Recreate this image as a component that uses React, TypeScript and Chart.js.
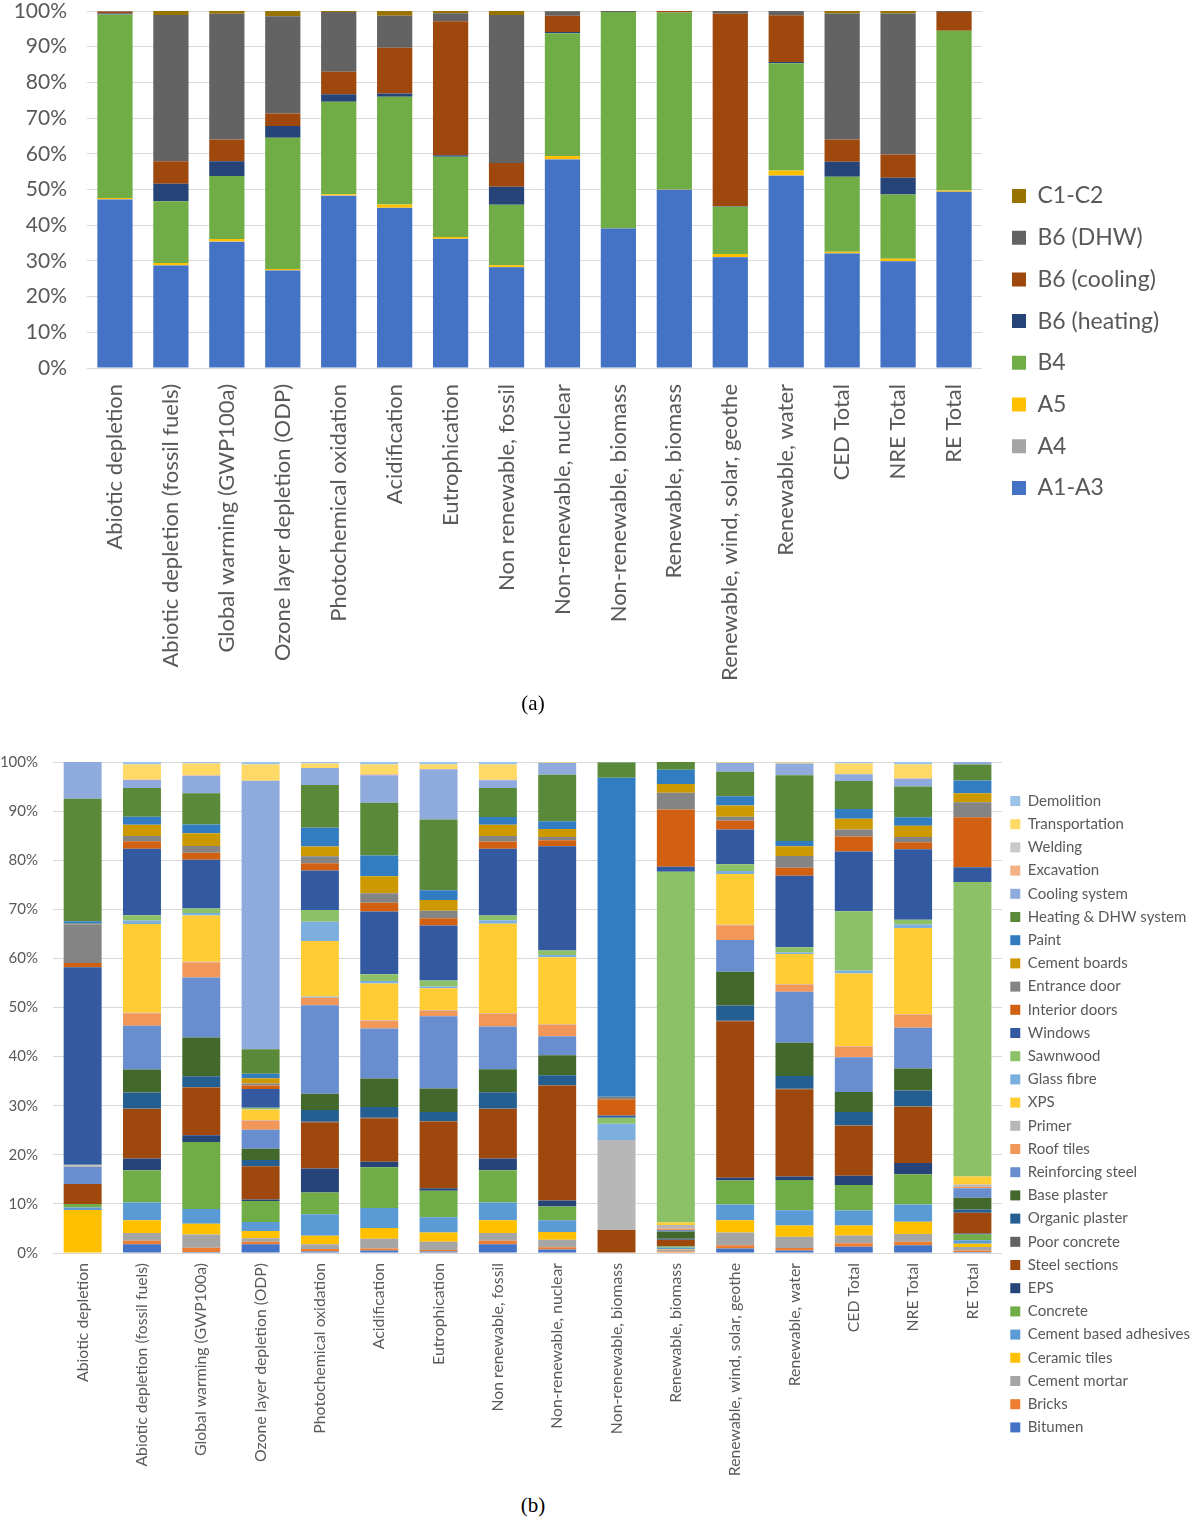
import React, { useEffect, useRef } from "react";
import { Chart, registerables } from "chart.js";

Chart.register(...registerables);

const FONT_FAMILY = "Lato, 'Liberation Sans', sans-serif";
const TEXT_COLOR = "#595959";
const GRID_COLOR = "#D9D9D9";

// ---------- shared categories ----------
const categories = [
  "Abiotic depletion",
  "Abiotic depletion (fossil fuels)",
  "Global warming (GWP100a)",
  "Ozone layer depletion (ODP)",
  "Photochemical oxidation",
  "Acidification",
  "Eutrophication",
  "Non renewable, fossil",
  "Non-renewable, nuclear",
  "Non-renewable, biomass",
  "Renewable, biomass",
  "Renewable, wind, solar, geothe",
  "Renewable, water",
  "CED Total",
  "NRE Total",
  "RE Total",
];

const percentTickStep = 10;

// ---------- (a) life-cycle stages, bottom to top ----------
const stageNames = ["A1-A3", "A4", "A5", "B4", "B6 (heating)", "B6 (cooling)", "B6 (DHW)", "C1-C2"];
const stageColors = ["#4472C4", "#A5A5A5", "#FFC000", "#70AD47", "#264478", "#9E480E", "#636363", "#997300"];

const a1a3 = [47.2, 28.7, 35.3, 27.3, 48.2, 44.8, 36.1, 28.2, 58.4, 39.1, 49.9, 31.0, 53.8, 32.1, 29.9, 49.4];
const a4 = [0.1, 0.1, 0.1, 0.1, 0.1, 0.1, 0.1, 0.1, 0.1, 0, 0, 0.1, 0.1, 0.1, 0.1, 0];
const a5 = [0.3, 0.6, 0.7, 0.3, 0.4, 0.9, 0.5, 0.5, 0.9, 0, 0.1, 0.8, 1.4, 0.4, 0.6, 0.3];
const b4 = [51.4, 17.3, 17.7, 36.8, 25.9, 30.2, 22.5, 16.9, 34.4, 60.6, 49.6, 13.3, 30.0, 21.0, 18.0, 44.8];
const b6Heating = [0.3, 4.9, 4.1, 3.3, 2.1, 0.9, 0.4, 5.1, 0.3, 0, 0, 0.1, 0.3, 4.2, 4.7, 0];
const b6Cooling = [0.5, 6.3, 6.1, 3.5, 6.3, 12.8, 37.5, 6.6, 4.6, 0, 0.4, 53.9, 13.1, 6.3, 6.5, 5.2];
const b6Dhw = [0.1, 41.0, 35.2, 27.2, 16.7, 9.0, 2.3, 41.5, 1.2, 0.3, 0, 0.8, 1.2, 35.3, 39.5, 0.3];
const c1c2 = [0.1, 1.1, 0.8, 1.5, 0.3, 1.3, 0.6, 1.1, 0.1, 0, 0, 0, 0, 0.7, 0.7, 0];

const stageData = [a1a3, a4, a5, b4, b6Heating, b6Cooling, b6Dhw, c1c2];

// ---------- (b) materials / components, bottom to top ----------
const materialNames = [
  "Bitumen",
  "Bricks",
  "Cement mortar",
  "Ceramic tiles",
  "Cement based adhesives",
  "Concrete",
  "EPS",
  "Steel sections",
  "Poor concrete",
  "Organic plaster",
  "Base plaster",
  "Reinforcing steel",
  "Roof tiles",
  "Primer",
  "XPS",
  "Glass fibre",
  "Sawnwood",
  "Windows",
  "Interior doors",
  "Entrance door",
  "Cement boards",
  "Paint",
  "Heating & DHW system",
  "Cooling system",
  "Excavation",
  "Welding",
  "Transportation",
  "Demolition",
];
const materialColors = [
  "#4472C4", "#ED7D31", "#A5A5A5", "#FFC000", "#5B9BD5", "#70AD47", "#264478",
  "#9E480E", "#636363", "#255E91", "#43682B", "#698ED0", "#F1975A", "#B7B7B7",
  "#FFCD33", "#7CAFDD", "#8CC168", "#335AA1", "#D26012", "#848484", "#CC9A00",
  "#327DC2", "#5A8A39", "#8FAADC", "#F4B183", "#C9C9C9", "#FFD966", "#9DC3E6",
];

const bitumen = [0, 1.8, 0.2, 1.8, 0.3, 0.5, 0.3, 1.8, 0.7, 0, 0.1, 0.9, 0.5, 1.3, 1.6, 0.2];
const bricks = [0, 0.7, 0.9, 0.5, 0.5, 0.4, 0.3, 0.7, 0.5, 0, 0.2, 0.7, 0.5, 0.7, 0.7, 0.3];
const cementMortar = [0.1, 1.6, 2.7, 0.7, 1.0, 2.0, 1.7, 1.6, 1.5, 0, 0.4, 2.6, 2.3, 1.6, 1.6, 0.7];
const ceramicTiles = [8.7, 2.6, 2.2, 1.5, 1.7, 2.2, 1.9, 2.6, 1.6, 0, 0.1, 2.5, 2.3, 2.0, 2.5, 0.7];
const cementAdhesives = [0.5, 3.6, 3.0, 1.8, 4.4, 4.1, 3.1, 3.6, 2.4, 0, 0.3, 3.2, 3.1, 3.1, 3.5, 0.7];
const concrete = [0.7, 6.6, 13.7, 4.3, 4.4, 8.3, 5.4, 6.6, 2.8, 0, 0.3, 4.9, 6.2, 5.2, 6.2, 1.2];
const eps = [0, 2.4, 1.4, 0.3, 4.9, 1.1, 0.5, 2.4, 1.2, 0, 0, 0.6, 0.7, 1.9, 2.3, 0.2];
const steelSections = [4.1, 10.1, 9.8, 6.8, 9.4, 8.9, 13.6, 10.1, 23.5, 4.7, 1.3, 32.0, 17.8, 10.2, 11.5, 4.2];
const poorConcrete = [0, 0.1, 0.1, 0.05, 0.1, 0.1, 0.1, 0.1, 0.1, 0, 0, 0.1, 0.1, 0.1, 0.1, 0];
const organicPlaster = [0, 3.3, 2.2, 1.2, 2.4, 2.2, 1.8, 3.3, 2.0, 0, 0.2, 3.1, 2.6, 2.7, 3.2, 0.7];
const basePlaster = [0, 4.7, 7.9, 2.3, 3.3, 5.8, 4.8, 4.7, 4.1, 0, 1.5, 6.9, 6.8, 4.1, 4.5, 2.4];
const reinforcingSteel = [3.5, 8.9, 12.3, 3.9, 18.0, 10.2, 14.7, 8.7, 3.9, 0, 0.3, 6.5, 10.4, 7.1, 8.3, 1.9];
const roofTiles = [0.1, 2.6, 3.1, 1.9, 1.5, 1.6, 1.2, 2.7, 2.4, 0, 0.3, 3.0, 1.5, 2.2, 2.7, 0.3];
const primer = [0.1, 0.1, 0.1, 0.1, 0.3, 0.1, 0.1, 0.1, 0.1, 18.3, 0.7, 0.1, 0.1, 0.1, 0.1, 0.5];
const xps = [0, 18.1, 9.5, 2.1, 11.3, 7.5, 4.4, 18.2, 13.6, 0, 0.5, 10.4, 6.1, 14.8, 17.6, 1.6];
const glassFibre = [0.1, 0.7, 0.5, 0.1, 3.9, 0.5, 0.4, 0.7, 0.5, 3.3, 0, 0.6, 0.3, 0.6, 0.7, 0];
const sawnwood = [0.1, 1.1, 0.9, 0.3, 2.4, 1.4, 1.2, 1.0, 0.9, 1.2, 71.6, 1.4, 1.1, 12.1, 1.0, 60.1];
const windows = [40.3, 13.6, 10.0, 3.8, 8.0, 12.8, 11.2, 13.6, 21.3, 0.5, 1.0, 7.1, 14.6, 12.2, 14.4, 3.0];
const interiorDoors = [0.9, 1.5, 1.4, 0.7, 1.5, 1.8, 1.5, 1.5, 1.2, 3.3, 11.7, 1.8, 1.6, 3.1, 1.4, 10.2];
const entranceDoor = [7.9, 1.1, 1.4, 0.4, 1.4, 1.9, 1.5, 1.1, 0.7, 0.5, 3.4, 0.8, 2.4, 1.4, 1.1, 3.1];
const cementBoards = [0.1, 2.3, 2.6, 1.1, 2.0, 3.5, 2.2, 2.3, 1.6, 0, 1.8, 2.3, 2.0, 2.2, 2.3, 1.8];
const paint = [0.5, 1.6, 1.8, 0.9, 3.8, 4.2, 2.0, 1.6, 1.6, 64.9, 2.9, 1.9, 1.1, 2.0, 1.7, 2.6];
const heatingDhwSystem = [25.0, 5.9, 6.4, 5.0, 8.7, 10.8, 14.4, 5.9, 9.5, 3.1, 1.6, 5.0, 13.4, 5.7, 6.3, 3.3];
const coolingSystem = [7.5, 1.6, 3.6, 54.8, 3.5, 5.6, 10.2, 1.6, 2.4, 0.1, 0, 1.8, 2.4, 1.4, 1.6, 0.5];
const excavation = [0, 0.1, 0.1, 0, 0, 0.2, 0, 0.1, 0, 0, 0, 0, 0, 0, 0.1, 0];
const welding = [0, 0, 0, 0, 0, 0, 0, 0, 0, 0, 0, 0, 0, 0, 0, 0];
const transportation = [0, 3.1, 2.4, 3.3, 0.9, 2.0, 1.0, 3.1, 0.1, 0, 0, 0.1, 0.2, 2.2, 2.8, 0];
const demolition = [0, 0.5, 0.3, 0.5, 0.3, 0.5, 0.5, 0.5, 0.1, 0, 0, 0.1, 0.1, 0.3, 0.5, 0];

const materialData = [
  bitumen, bricks, cementMortar, ceramicTiles, cementAdhesives, concrete, eps,
  steelSections, poorConcrete, organicPlaster, basePlaster, reinforcingSteel, roofTiles, primer,
  xps, glassFibre, sawnwood, windows, interiorDoors, entranceDoor, cementBoards,
  paint, heatingDhwSystem, coolingSystem, excavation, welding, transportation, demolition,
];

// ---------- helpers ----------
function percentStacks(series: number[][]): number[][] {
  const totals = categories.map((_, i) => series.reduce((s, arr) => s + (arr[i] || 0), 0));
  return series.map((arr) => arr.map((v, i) => (totals[i] ? (v / totals[i]) * 100 : 0)));
}

type Spec = {
  left: number;
  top: number;
  width: number;
  height: number;
  names: string[];
  data: number[][];
  colors: string[];
  tickSize: number;
  xLabelSize: number;
  legendSize: number;
  yAxisWidth: number;
  plotTop: number;
  plotBottom: number;
  plotRight: number;
  xLabelPad: number;
  yLabelPad: number;
  barPct: number;
  legendBox: number;
  legendSpacing: number;
  legendBoxLeft: number;
  legendFirstCenter: number;
};

function StackedPercentChart({ spec }: { spec: Spec }) {
  const ref = useRef<HTMLCanvasElement | null>(null);

  useEffect(() => {
    const s = spec;
    if (!ref.current) return;
    const pct = percentStacks(s.data);

    const itemH = Math.max(s.legendSize, s.legendBox);
    const legendPad = s.legendSpacing - itemH;
    const cursorY = s.legendFirstCenter - itemH / 2;
    const titleH = Math.max(1, cursorY - s.plotTop - legendPad);
    const xAxisH = s.height - s.plotBottom;

    const mctx = document.createElement("canvas").getContext("2d")!;
    mctx.font = `${s.legendSize}px ${FONT_FAMILY}`;
    const maxText = Math.max(...s.names.map((n) => mctx.measureText(n).width));
    const itemW = s.legendBox + s.legendSize / 2 + maxText;
    const legendW = legendPad + itemW + 10;
    const padRight = Math.max(0, s.width - s.legendBoxLeft + legendPad - legendW);
    const legendLeft = s.width - padRight - legendW;
    const gap = Math.max(0, legendLeft - s.plotRight);

    const chart = new Chart(ref.current, {
      type: "bar",
      data: {
        labels: categories,
        datasets: s.names.map((name, i) => ({
          label: name,
          data: pct[i],
          backgroundColor: s.colors[i],
          borderWidth: 0,
          barPercentage: s.barPct,
          categoryPercentage: 1,
          stack: "all",
          yAxisID: "y",
        })),
      },
      options: {
        animation: false,
        responsive: true,
        maintainAspectRatio: false,
        events: [],
        layout: { padding: { top: s.plotTop, left: 0, right: padRight, bottom: 0 } },
        plugins: {
          tooltip: { enabled: false },
          title: { display: false },
          legend: {
            display: true,
            position: "right",
            align: "start",
            reverse: true,
            title: {
              display: true,
              text: " ",
              font: { size: 1, lineHeight: 1 },
              padding: { top: titleH - 1, bottom: 0 },
            },
            labels: {
              boxWidth: s.legendBox,
              boxHeight: s.legendBox,
              padding: legendPad,
              color: TEXT_COLOR,
              font: { family: FONT_FAMILY, size: s.legendSize },
            },
          },
        },
        scales: {
          x: {
            stacked: true,
            grid: { display: false, drawTicks: false },
            border: { display: false },
            ticks: {
              autoSkip: false,
              maxRotation: 90,
              minRotation: 90,
              padding: s.xLabelPad,
              color: TEXT_COLOR,
              font: { family: FONT_FAMILY, size: s.xLabelSize, lineHeight: 1 },
            },
            afterFit: (scale: any) => {
              scale.height = xAxisH;
              scale.paddingLeft = 0;
              scale.paddingRight = 0;
            },
          },
          y: {
            stacked: true,
            min: 0,
            max: 100,
            grid: { color: GRID_COLOR, lineWidth: 1, drawTicks: false },
            border: { display: false },
            ticks: {
              stepSize: percentTickStep,
              padding: s.yLabelPad,
              color: TEXT_COLOR,
              font: { family: FONT_FAMILY, size: s.tickSize, lineHeight: 1 },
              callback: (v: any) => `${v}%`,
            },
            afterFit: (scale: any) => {
              scale.width = s.yAxisWidth;
              scale.paddingTop = 0;
              scale.paddingBottom = 0;
            },
          },
          gapAxis: {
            type: "linear",
            position: "right",
            display: true,
            grid: { display: false, drawTicks: false },
            border: { display: false },
            ticks: { display: false },
            afterFit: (scale: any) => {
              scale.width = gap;
              scale.paddingTop = 0;
              scale.paddingBottom = 0;
            },
          },
        },
      } as any,
    });

    return () => chart.destroy();
  }, [spec]);

  return (
    <div
      style={{
        position: "absolute",
        left: spec.left,
        top: spec.top,
        width: spec.width,
        height: spec.height,
      }}
    >
      <canvas ref={ref} />
    </div>
  );
}

const topSpec: Spec = {
  left: 0,
  top: 0,
  width: 1200,
  height: 692,
  names: stageNames,
  data: stageData,
  colors: stageColors,
  tickSize: 21,
  xLabelSize: 22,
  legendSize: 23,
  yAxisWidth: 87,
  plotTop: 11,
  plotBottom: 368,
  plotRight: 982,
  xLabelPad: 16,
  yLabelPad: 20,
  barPct: 0.63,
  legendBox: 14,
  legendSpacing: 41.7,
  legendBoxLeft: 1012,
  legendFirstCenter: 196,
};

const bottomSpec: Spec = {
  left: 0,
  top: 750,
  width: 1200,
  height: 740,
  names: materialNames,
  data: materialData,
  colors: materialColors,
  tickSize: 15,
  xLabelSize: 15.8,
  legendSize: 15,
  yAxisWidth: 53,
  plotTop: 12,
  plotBottom: 503,
  plotRight: 1003,
  xLabelPad: 10,
  yLabelPad: 15,
  barPct: 0.64,
  legendBox: 10,
  legendSpacing: 23.2,
  legendBoxLeft: 1017,
  legendFirstCenter: 51,
};

const captionStyle: React.CSSProperties = {
  position: "absolute",
  width: 100,
  textAlign: "center",
  fontFamily: "'Liberation Serif', 'DejaVu Serif', serif",
  fontSize: 21,
  color: "#000",
  lineHeight: "24px",
};

export default function App() {
  return (
    <div style={{ position: "absolute", left: 0, top: 0, width: 1200, height: 1520, background: "#fff" }}>
      <StackedPercentChart spec={topSpec} />
      <div style={{ ...captionStyle, left: 483, top: 691 }}>(a)</div>
      <StackedPercentChart spec={bottomSpec} />
      <div style={{ ...captionStyle, left: 483, top: 1493 }}>(b)</div>
    </div>
  );
}
